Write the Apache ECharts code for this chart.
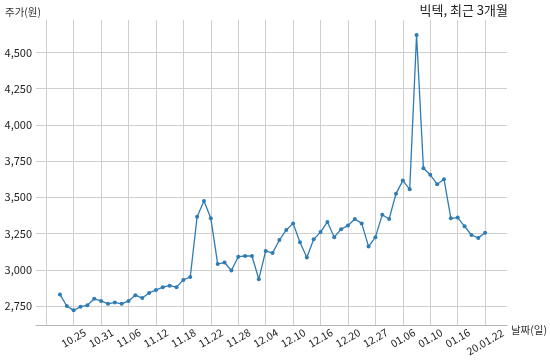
<!DOCTYPE html>
<html>
<head>
<meta charset="utf-8">
<script src="https://cdn.jsdelivr.net/npm/echarts@6/dist/echarts.min.js"></script>
<style>html,body{margin:0;padding:0;background:#fff}#c{width:550px;height:360px}</style>
</head>
<body>
<div id="c"></div>
<script>
// Trading days (MM.DD), last one carries the year
const dates = ['10.23','10.24','10.25','10.28','10.29','10.30','10.31',
  '11.01','11.04','11.05','11.06','11.07','11.08','11.11','11.12','11.13','11.14','11.15','11.18','11.19','11.20','11.21','11.22','11.25','11.26','11.27','11.28','11.29',
  '12.02','12.03','12.04','12.05','12.06','12.09','12.10','12.11','12.12','12.13','12.16','12.17','12.18','12.19','12.20','12.23','12.24','12.26','12.27','12.30',
  '01.02','01.03','01.06','01.07','01.08','01.09','01.10','01.13','01.14','01.15','01.16','01.17','01.20','01.21','20.01.22'];
// Closing price (won)
const prices = [2830,2750,2720,2745,2755,2800,2785,2765,2775,2765,2785,2825,2805,2840,2860,2880,2890,2880,2930,2950,
  3365,3475,3355,3040,3050,2995,3090,3095,3095,2935,3130,3115,3205,3275,3320,3190,3085,3210,3260,3330,
  3225,3280,3305,3350,3320,3160,3225,3380,3350,3525,3615,3555,4620,3700,3655,3590,3625,3355,3360,3300,
  3240,3220,3255];
const firstLabelIndex = 2;   // 10.25
const labelStep = 4;
const yTicks = [2750,3000,3250,3500,3750,4000,4250,4500];

const FONT = '"Noto Sans CJK KR", "Noto Sans", sans-serif';
const seriesData = prices.map((v, i) => [i - firstLabelIndex, v]);

const chart = echarts.init(document.getElementById('c'), null, {renderer: 'canvas'});
chart.setOption({
  animation: false,
  backgroundColor: '#fff',
  title: [{
    text: '빅텍, 최근 3개월',
    right: 42, top: 4, padding: 0,
    textStyle: {fontFamily: FONT, fontSize: 13, fontWeight: 'normal', color: '#222'}
  }, {
    text: '주가(원)',
    left: 5, top: 7, padding: 0,
    textStyle: {fontFamily: FONT, fontSize: 10.5, fontWeight: 'normal', color: '#333'}
  }],
  grid: {left: 36, right: 42, top: 20, bottom: 35, containLabel: false},
  xAxis: {
    type: 'value',
    min: -5.49, max: 63.2,
    minInterval: labelStep, maxInterval: labelStep,
    name: '날짜(일)',
    nameLocation: 'end',
    nameGap: 3,
    nameTextStyle: {fontFamily: FONT, fontSize: 10.5, color: '#333', verticalAlign: 'top', align: 'left'},
    axisLine: {show: true, lineStyle: {color: '#b5b5b5', width: 1}},
    axisTick: {show: false},
    axisLabel: {
      showMinLabel: false, showMaxLabel: false,
      rotate: 30, align: 'center', verticalAlign: 'middle', margin: 13,
      fontFamily: FONT, fontSize: 10.5, color: '#222',
      rich: {
        long: {fontFamily: FONT, fontSize: 10.5, color: '#222', padding: [7, 4, 0, 0]}
      },
      formatter: v => {
        const idx = Math.round(v) + firstLabelIndex;
        const s = dates[idx];
        if (s === undefined) return '';
        return s.length > 5 ? '{long|' + s + '}' : s;
      }
    },
    splitLine: {show: true, showMinLine: false, showMaxLine: false, lineStyle: {color: '#cfcfcf', width: 1}}
  },
  yAxis: {
    type: 'value',
    min: 2619, max: 4723,
    minInterval: 250, maxInterval: 250,
    axisLine: {show: false},
    axisTick: {show: false},
    axisLabel: {
      showMinLabel: false, showMaxLabel: false,
      margin: 4,
      fontFamily: FONT, fontSize: 11, color: '#222',
      formatter: v => yTicks.includes(Math.round(v)) ? Math.round(v).toLocaleString('en-US') : ''
    },
    splitLine: {show: true, showMinLine: false, showMaxLine: false, lineStyle: {color: '#cfcfcf', width: 1}}
  },
  series: [{
    type: 'line',
    data: seriesData,
    symbol: 'circle',
    symbolSize: 4,
    showAllSymbol: true,
    lineStyle: {color: '#2f7bb3', width: 1.3},
    itemStyle: {color: '#2f7bb3'}
  }]
});
</script>
</body>
</html>
